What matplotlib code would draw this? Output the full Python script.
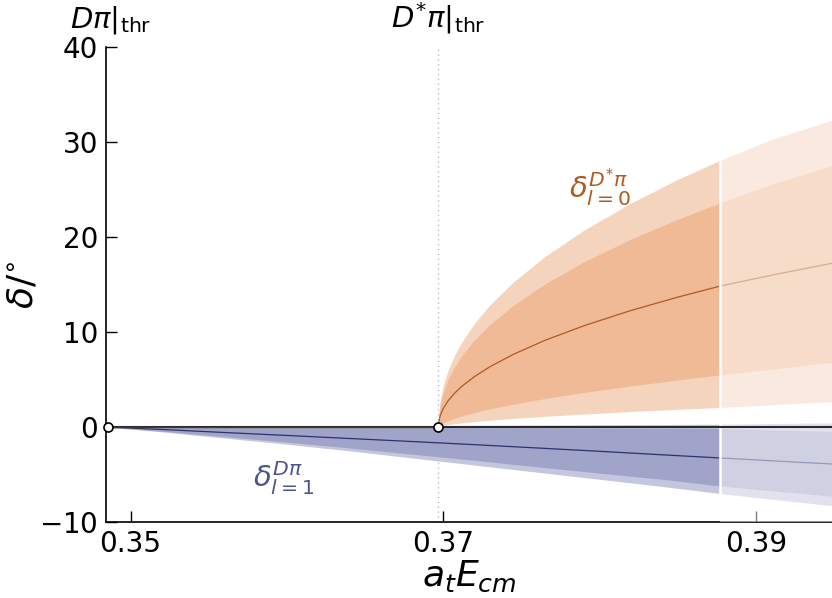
import matplotlib
matplotlib.use('Agg')
import matplotlib.pyplot as plt
import numpy as np

plt.rcParams['font.family'] = 'DejaVu Sans'
plt.rcParams['mathtext.fontset'] = 'dejavusans'

# thresholds and the point where the fit range ends
thr_dpi = 0.34855
thr_dspi = 0.36968
x_cut = 0.3877

# D*pi, l=0 phase shift (central value, inner and outer bands)
x_s = [0.36968, 0.3697, 0.3698, 0.3700, 0.3703, 0.3707, 0.3712, 0.372, 0.373,
       0.3745, 0.3765, 0.379, 0.382, 0.385, 0.3877, 0.391, 0.395]
s_mid = [0.0, 0.48, 1.22, 1.98, 2.76, 3.54, 4.32, 5.33, 6.38,
         7.68, 9.14, 10.68, 12.28, 13.69, 14.85, 16.0, 17.3]
s_in_hi = [0.0, 1.01, 2.37, 3.69, 5.01, 6.30, 7.57, 9.19, 10.84,
           12.85, 15.08, 17.41, 19.8, 21.9, 23.6, 25.6, 27.6]
s_in_lo = [0.0, 0.08, 0.25, 0.45, 0.68, 0.93, 1.19, 1.54, 1.93,
           2.42, 3.01, 3.65, 4.34, 4.97, 5.49, 6.10, 6.85]
s_out_hi = [0.0, 1.20, 2.82, 4.40, 5.97, 7.51, 9.02, 10.95, 12.92,
            15.31, 17.97, 20.75, 23.6, 26.1, 28.1, 30.3, 32.4]
s_out_lo = [0.0, 0.03, 0.09, 0.17, 0.26, 0.35, 0.45, 0.58, 0.73,
            0.91, 1.13, 1.38, 1.64, 1.87, 2.07, 2.35, 2.7]

# D pi, l=1 phase shift
x_p = [0.34855, 0.352, 0.356, 0.360, 0.364, 0.368, 0.372, 0.376, 0.380,
       0.384, 0.3877, 0.391, 0.395]
p_mid = [0.0, -0.25, -0.57, -0.88, -1.2, -1.52, -1.85, -2.2, -2.55,
         -2.92, -3.25, -3.55, -3.9]
p_in_hi = [0.0, -0.01, -0.02, -0.03, -0.04, -0.05, -0.06, -0.08, -0.1,
           -0.12, -0.15, -0.3, -0.45]
p_in_lo = [0.0, -0.44, -1.0, -1.58, -2.2, -2.85, -3.5, -4.18, -4.85,
           -5.5, -6.2, -6.7, -7.3]
p_out_hi = [0.0, 0.03, 0.06, 0.09, 0.12, 0.15, 0.18, 0.21, 0.24,
            0.27, 0.3, 0.38, 0.45]
p_out_lo = [0.0, -0.5, -1.15, -1.8, -2.5, -3.25, -4.0, -4.75, -5.5,
            -6.25, -7.0, -7.6, -8.3]

orange_out = '#f5d4bd'
orange_in = '#f0ba96'
orange_line = '#b05a20'
blue_out = '#c3c6de'
blue_in = '#a0a4c8'
blue_line = '#2b3270'

fig = plt.figure(figsize=(8.32, 5.98), dpi=100)
ax = fig.add_axes([0.128, 0.127, 0.872, 0.794])

ax.fill_between(x_s, s_out_lo, s_out_hi, color=orange_out, lw=0, zorder=1)
ax.fill_between(x_s, s_in_lo, s_in_hi, color=orange_in, lw=0, zorder=2)
ax.plot(x_s, s_mid, color=orange_line, lw=0.9, zorder=3)

ax.fill_between(x_p, p_out_lo, p_out_hi, color=blue_out, lw=0, zorder=1)
ax.fill_between(x_p, p_in_lo, p_in_hi, color=blue_in, lw=0, zorder=2)
ax.plot(x_p, p_mid, color=blue_line, lw=0.9, zorder=3)

# outside the fitted energy range: faded
ax.axvspan(x_cut, 0.40, color='white', alpha=0.5, lw=0, zorder=4)
top_cut = np.interp(x_cut, x_s, s_out_hi)
bot_cut = np.interp(x_cut, x_p, p_out_lo)
ax.vlines(x_cut, bot_cut, top_cut, color='white', lw=1.8, zorder=5)

ax.axvline(thr_dspi, color='#bbbbbb', lw=1, ls=(0, (1, 2.5)), zorder=0.5)

ax.plot([thr_dpi, 0.40], [0, 0], color='#2a2a2a', lw=1.5, zorder=6)
ax.plot([thr_dpi, thr_dspi], [0, 0], color='#5a3218', lw=0.9, zorder=6)
ax.plot([thr_dpi, thr_dspi], [0, 0], ls='none', marker='o', ms=6.5,
        mfc='white', mec='black', mew=1.2, zorder=7, clip_on=False)

ax.text(0.3800, 25.2, r'$\delta^{D^{*}\pi}_{l=0}$', color='#b05a20',
        fontsize=21, ha='center', va='center')
ax.text(0.35981, -5.4, r'$\delta^{D\pi}_{l=1}$', color='#4a5290',
        fontsize=21, ha='center', va='center')

ax.text(thr_dpi + 0.0002, 41.2, r'$D\pi|_{\mathrm{thr}}$', fontsize=21,
        ha='center', va='bottom')
ax.text(thr_dspi, 41.2, r'$D^{*}\pi|_{\mathrm{thr}}$', fontsize=21,
        ha='center', va='bottom')

ax.set_xlim(0.34846, 0.39485)
ax.set_ylim(-10, 40)
ax.set_xticks([0.35, 0.37, 0.39])
ax.set_xticklabels(['0.35', '0.37', '0.39'])
ax.set_yticks([-10, 0, 10, 20, 30, 40])
ax.set_yticklabels([r'$-10$', '0', '10', '20', '30', '40'])
ax.tick_params(direction='in', length=8, width=1, labelsize=20, pad=6)
for side in ['top', 'right']:
    ax.spines[side].set_visible(False)
for side in ['left', 'bottom']:
    ax.spines[side].set_linewidth(1.2)

ax.set_xlabel(r'$a_tE_{cm}$', fontsize=26, labelpad=0)
ax.set_ylabel(r'$\delta/^{\circ}$', fontsize=26, labelpad=0)

fig.savefig('out.png', dpi=100)
